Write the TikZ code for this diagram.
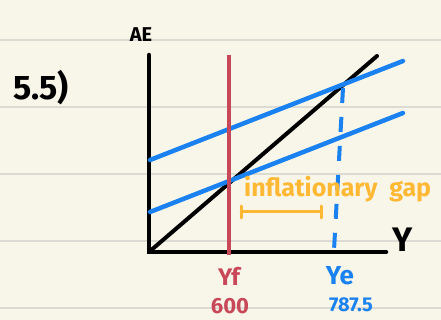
\documentclass[tikz,border=0pt]{standalone}
\usepackage{fontspec}
\setmainfont{Fira Sans}
\usetikzlibrary{positioning, calc}

\definecolor{paper}{HTML}{F8F6E8}
\definecolor{rule}{HTML}{DCDBD3}
\definecolor{aeblue}{HTML}{1A82F0}
\definecolor{fullred}{HTML}{C8485A}
\definecolor{gaporange}{HTML}{FFB833}

\begin{document}
\begin{tikzpicture}[
        x=1pt, y=-1pt,
        ink/.style={line width=4.5pt, line cap=round},
        axis/.style={ink, black},
        aeline/.style={ink, aeblue},
        fullline/.style={line width=4pt, fullred},
        eqline/.style={line width=4pt, aeblue, dash pattern=on 15pt off 14pt},
        gapbar/.style={line width=3pt, gaporange, line cap=round},
        lbl/.style={font=\bfseries\fontsize{#1}{#1}\selectfont, inner sep=0pt}
    ]
    % paper
    \fill[paper] (0,0) rectangle (441,320);
    \useasboundingbox (0,0) rectangle (441,320);
    \foreach \ry in {40,107,174,241,308}
        \draw[rule, line width=1.2pt] (0,\ry) -- (441,\ry);

    % axes
    \coordinate (O) at (149,252);
    \coordinate (ytop) at (149,55);
    \coordinate (xend) at (386,252);
    \draw[axis] (ytop) -- (O) -- (xend);
    \node[lbl=20] (ae) at (141,35) {AE};
    \node[lbl=34] (ylab) at (403,240) {Y};
    \node[lbl=34] (part) at (41,88) {5.5)};

    % 45 degree line
    \coordinate (diag) at (377,56);
    \draw[ink, line width=4pt] (O) -- (diag);

    % aggregate expenditure lines
    \coordinate (ae1a) at (150,160);
    \coordinate (ae1b) at (403,61);
    \coordinate (ae2a) at (150,212);
    \coordinate (ae2b) at (403,113);
    \draw[aeline] (ae1a) -- (ae1b);
    \draw[aeline] (ae2a) -- (ae2b);

    % full employment output
    \coordinate (yftop) at (229,55);
    \coordinate (yfbot) at (229,255);
    \draw[fullline] (yftop) -- (yfbot);
    \node[lbl=24, text=fullred] (yf) at (229,276) {Yf};
    \node[lbl=22, text=fullred] (yfval) at (230,306) {600};

    % equilibrium output
    \coordinate (yetop) at (343,88);
    \coordinate (yebot) at (334,250);
    \draw[eqline] (yetop) -- (yebot);
    \node[lbl=26, text=aeblue] (ye) at (340,276) {Ye};
    \node[lbl=20, text=aeblue] (yeval) at (351,305) {787.5};

    % gap
    \node[lbl=25, text=gaporange, anchor=west] (gap) at (244,189) {inflationary\ \ gap};
    \coordinate (gapl) at (241,212);
    \coordinate (gapr) at (321,212);
    \draw[gapbar] (gapl) -- (gapr);
    \draw[gapbar] ($(gapl)+(0,-6)$) -- ($(gapl)+(0,6)$);
    \draw[gapbar] ($(gapr)+(0,-6)$) -- ($(gapr)+(0,6)$);
\end{tikzpicture}
\end{document}
